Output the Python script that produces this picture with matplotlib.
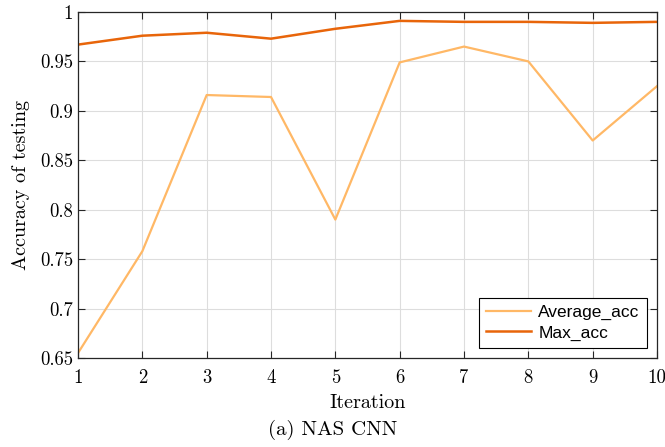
import matplotlib
matplotlib.use("Agg")
import matplotlib.pyplot as plt
from matplotlib.ticker import FuncFormatter

# 資料
iterations = [1, 2, 3, 4, 5, 6, 7, 8, 9, 10]
average_acc = [0.655, 0.758, 0.916, 0.914, 0.790, 0.949, 0.965, 0.950, 0.870, 0.925]
max_acc = [0.967, 0.976, 0.979, 0.973, 0.983, 0.991, 0.990, 0.990, 0.989, 0.990]
y_ticks = [0.65, 0.7, 0.75, 0.8, 0.85, 0.9, 0.95, 1.0]

plt.rcParams["font.family"] = "serif"
plt.rcParams["font.serif"] = ["cmr10", "DejaVu Serif"]
plt.rcParams["mathtext.fontset"] = "cm"
plt.rcParams["axes.unicode_minus"] = False

fig = plt.figure(figsize=(6.65, 4.47), dpi=100)
ax = fig.add_axes([0.1173, 0.1991, 0.8707, 0.7741])

ax.plot(iterations, average_acc, color="#FFB866", lw=1.6, label="Average_acc")
ax.plot(iterations, max_acc, color="#E8650A", lw=1.8, label="Max_acc")

ax.set_xlim(1, 10)
ax.set_ylim(0.65, 1.0)
ax.set_xticks(iterations)
ax.set_yticks(y_ticks)
ax.yaxis.set_major_formatter(FuncFormatter(lambda v, p: f"{v:g}"))
ax.tick_params(direction="in", top=True, right=True, labelsize=13.5,
               length=5, width=0.8, color="#262626")
ax.tick_params(axis="x", pad=8)
ax.grid(True, color="#dddddd", lw=0.8)
for s in ax.spines.values():
    s.set_color("#262626")
    s.set_linewidth(0.9)

ax.set_xlabel("Iteration", fontsize=14.5, labelpad=5)
ax.set_ylabel("Accuracy of testing", fontsize=14.5, labelpad=7)

leg = ax.legend(loc="lower right", fancybox=False, framealpha=1,
                edgecolor="black", prop={"family": "Liberation Sans", "size": 12.5},
                handlelength=2.6, borderaxespad=0.6, labelspacing=0.3,
                handletextpad=0.4)
leg.get_frame().set_linewidth(0.8)

fig.text(0.5, 0.038, "(a) NAS CNN", ha="center", va="center", fontsize=15)

fig.savefig("out.png", dpi=100)
